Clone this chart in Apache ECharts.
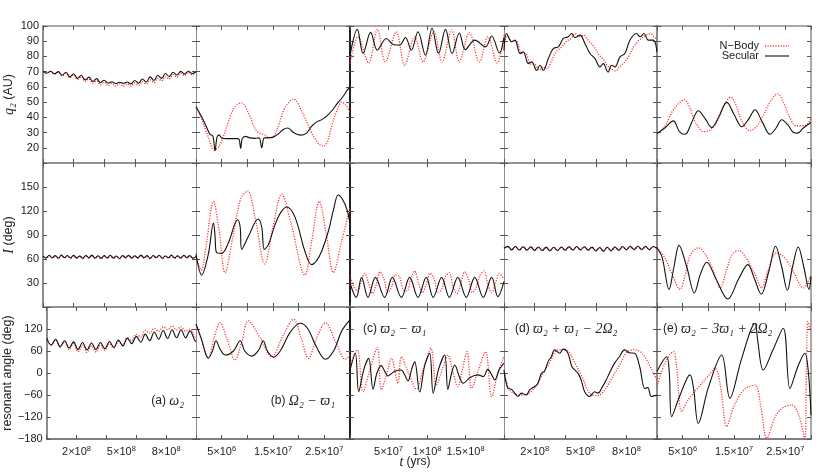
<!DOCTYPE html>
<html>
<head>
<meta charset="utf-8">
<script src="https://cdn.jsdelivr.net/npm/echarts/dist/echarts.min.js"></script>
<style>
html, body { margin: 0; padding: 0; background: #fff; }
#chart { width: 830px; height: 473px; }
</style>
</head>
<body>
<div id="chart"></div>
<script>
// ---- time grids (x units: col a,d = 1e8 yr, col b,e = 1e6 yr, col c = 1e7 yr)
const T025 = [0,0.25,0.5,0.75,1,1.25,1.5,1.75,2,2.25,2.5,2.75,3,3.25,3.5,3.75,4,4.25,4.5,4.75,5,5.25,5.5,5.75,6,6.25,6.5,6.75,7,7.25,7.5,7.75,8,8.25,8.5,8.75,9,9.25,9.5,9.75,10];
const T02 = [0,0.2,0.4,0.6,0.8,1,1.2,1.4,1.6,1.8,2,2.2,2.4,2.6,2.8,3,3.2,3.4,3.6,3.8,4,4.2,4.4,4.6,4.8,5,5.2,5.4,5.6,5.8,6,6.2,6.4,6.6,6.8,7,7.2,7.4,7.6,7.8,8,8.2,8.4,8.6,8.8,9,9.2,9.4,9.6,9.8,10];
const T03 = [0,0.3,0.6,0.9,1.2,1.5,1.8,2.1,2.4,2.7,3,3.3,3.6,3.9,4.2,4.5,4.8,5.1,5.4,5.7,6,6.3,6.6,6.9,7.2,7.5,7.8,8.1,8.4,8.7,9,9.3,9.6,9.9,10];

// ---- row 1: q2 (AU)
const q2A_sec = [70.2,69.0,70.3,68.6,70.0,67.6,69.6,66.6,68.6,65.6,67.6,64.6,66.4,63.6,65.4,62.8,64.4,62.4,63.4,62.2,63.0,62.3,63.2,62.0,64.2,62.4,65.2,63.2,66.6,64.2,67.6,65.6,68.8,66.8,69.6,67.8,70.2,68.4,70.3,68.8,69.8];
const q2A_nb = [70.0,69.0,70.0,68.4,69.6,67.2,69.0,66.0,67.8,64.8,66.6,63.6,65.2,62.4,64.0,61.4,63.0,60.8,62.4,60.4,62.0,60.4,62.0,60.6,62.6,61.0,63.4,61.8,64.6,62.8,65.6,64.0,66.8,65.2,68.0,66.4,69.0,67.4,69.6,68.0,69.4];
const q2B_sec = [[0,47],[1,41],[2,34],[2.7,29],[3.3,27.5],[3.7,18],[4.1,27],[4.5,28.5],[5,26.5],[6,26],[7,26],[8,26],[8.4,25.5],[8.7,19.5],[9.0,26],[9.6,27.5],[10.5,26.5],[11.5,26.2],[12.3,26.5],[12.8,20],[13.3,26.5],[14,26.5],[15,27],[16,29],[17,32],[17.9,33],[19,30],[20.3,28.3],[21.5,29.5],[22.5,34],[23.5,37],[24.5,38.5],[25.5,41],[26.5,44.5],[27.5,49],[28.5,53],[29.5,58],[30,60]];
const q2B_nb = [[0,47],[1.2,38],[2.4,27],[3.5,18.5],[4.5,21],[5.5,29],[6.5,39],[7.6,47],[8.9,49.5],[10.2,43],[11.8,31],[13.4,28.5],[14.7,26.5],[16,34],[17.3,46],[19,52],[20.6,44],[22.5,30],[23.8,23],[24.8,21],[25.6,24],[26.4,34],[27.4,44],[28.4,50],[29.2,48],[30,43]];
const q2C_sec = [[0,80.8],[0.95,97.8],[1.69,81.9],[2.68,95.8],[3.55,84.1],[4.72,91.8],[5.6,87.9],[6.45,87.5],[7.2,92.4],[7.97,84.1],[8.83,96.2],[9.8,80.8],[10.65,98.5],[11.5,81.9],[12.4,97.8],[13.25,81.9],[14.2,95.4],[14.98,84.5],[16.2,90.7],[17.6,86.3],[18.4,93.4],[19.4,82.3],[20,92.4]];
const q2C_nb = [[0,75.3],[1.04,92.9],[2.42,75.7],[3.55,97.8],[4.59,76.4],[6.02,96.2],[7.1,74.2],[8.4,92.9],[9.48,76.4],[10.9,96.2],[11.95,76.4],[13.2,97.4],[14.2,76.4],[15.5,95.6],[16.8,76.4],[17.9,92.9],[19.1,75.7],[20,94]];
const q2D_sec = [[0,84.1],[0.17,95.1],[0.5,89.6],[0.72,90.7],[1.05,81.9],[1.26,83.0],[1.59,75.3],[1.81,76.4],[2.14,70.8],[2.35,74.2],[2.57,70.8],[2.9,78.6],[3.22,85.2],[3.55,86.3],[3.88,91.8],[4.2,92.9],[4.42,95.1],[4.64,92.4],[4.97,94],[5.29,88.5],[5.62,81.9],[5.95,78.6],[6.27,73.1],[6.49,75.3],[6.8,69.7],[7.04,74.2],[7.25,73.1],[7.58,79.7],[7.9,81.9],[8.23,90.7],[8.67,95.1],[8.89,92.9],[9.15,95.1],[9.43,90.7],[9.76,90.7],[10,83]];
const q2D_nb = [[0,84],[0.2,94],[0.55,90],[0.8,90],[1.15,82],[1.4,82],[1.75,75],[2.0,75],[2.3,71],[2.55,73],[2.8,72],[3.1,77],[3.4,83],[3.75,86],[4.1,90],[4.4,92],[4.65,95],[4.9,93],[5.2,94],[5.55,90],[5.9,86],[6.2,81],[6.5,78],[6.75,74],[7.0,72],[7.3,70.5],[7.55,73],[7.85,76],[8.15,80],[8.45,86],[8.75,90],[9.0,92],[9.3,94],[9.55,95],[9.8,93],[10,91]];
const q2E_sec = [[0,29.3],[1.5,33],[3.18,37.7],[4.3,31],[5.13,28.9],[5.8,29.5],[6.8,37],[8.05,44.3],[9.4,39],[10.65,33.3],[12,40],[13.6,49.8],[15,42],[16.5,33.8],[17.8,38.5],[19.1,45],[20.5,37],[22,28.9],[23.2,33],[24.3,38.4],[25.5,35],[26.6,30],[27.4,29.6],[28.5,33],[30,36.6]];
const q2E_nb = [[0,29.3],[1.5,34],[3,44],[4.2,49],[5.3,51.6],[6.3,47],[7.3,38],[8.2,33],[9,30.6],[10.3,31.5],[11.6,36.6],[13,48],[14.4,53.2],[15.5,47],[16.5,37.7],[18.1,31.3],[19.4,34],[20.7,41],[22,50],[23.5,55.4],[24.6,50],[25.6,42],[27.2,34.3],[28.8,34.6],[30,39]];

// ---- row 2: I (deg)
const IA_sec = [63.5,61.2,64.6,61.6,64.2,61.0,64.8,61.8,64.4,61.2,64.6,61.4,63.8,61.0,64.4,61.6,64.8,61.2,64.0,60.8,64.2,61.4,64.6,61.2,63.8,60.6,64.4,61.8,64.6,61.2,64.0,61.4,64.8,61.6,64.2,60.8,64.4,61.8,64.6,61.0,63.8,61.6,64.8,61.4,64.0,61.2,64.6,61.8,64.4,61.0,63.0];
const IA_nb = [63.2,60.8,64.2,61.0,64.0,60.4,64.4,61.2,64.0,60.6,64.2,60.8,63.4,60.2,64.0,61.0,64.4,60.6,63.6,60.2,63.8,60.8,64.2,60.6,63.4,60.0,64.0,61.2,64.2,60.6,63.6,60.8,64.4,61.0,63.8,60.2,64.0,61.2,64.2,60.4,63.4,61.0,64.4,60.8,63.6,60.6,64.2,61.2,64.0,60.6,62.6];
const IB_sec = [[0,66],[1.1,40],[2.4,66],[3.4,105],[3.7,90],[4.0,68],[5,67],[6.3,80],[8.1,109],[8.6,100],[8.9,72],[10.2,88],[12.1,110],[12.8,100],[13.3,72],[14.1,78],[15.4,103],[16.5,118],[17.7,125],[19.3,112],[21.2,70],[22.5,53],[23.5,58],[24.5,70],[25.8,95],[26.8,122],[27.7,140],[28.5,135],[29.4,122],[30,104]];
const IB_nb = [[0,64],[1,46],[2,78],[3.4,132],[4.5,95],[5.65,43],[7.2,88],[8.7,135],[10.07,145],[11.5,112],[13.4,54],[15,100],[16.7,141],[18.5,105],[21.2,40],[22.6,85],[24,132],[25.4,90],[26.75,43],[28.3,80],[30,124]];
const IC_sec = [[0,30],[0.82,12],[1.5,37],[2.34,12],[3.3,37],[4.5,12],[5.5,37],[6.67,12],[7.75,37],[8.83,12],[9.9,37],[10.8,12],[11.9,37],[12.9,12],[14.0,37],[15.1,12],[16.2,37],[17.3,12],[18.4,37],[19.2,13],[20,32]];
const IC_nb = [[0,40],[0.5,25],[1.0,20],[1.4,30],[1.9,42],[2.4,30],[2.9,17],[3.4,28],[3.9,44],[4.4,35],[4.9,18],[5.4,25],[5.9,40],[6.4,38],[6.9,22],[7.4,20],[7.9,35],[8.4,45],[8.9,30],[9.4,18],[9.9,28],[10.4,42],[10.9,36],[11.4,18],[11.9,22],[12.4,38],[12.9,43],[13.4,25],[13.9,17],[14.4,30],[14.9,44],[15.4,34],[15.9,18],[16.4,25],[16.9,40],[17.4,45],[17.9,28],[18.4,18],[18.9,30],[19.4,42],[20,35]];
const ID_sec = [73.5,75.8,71.4,75.6,71.2,75.4,71.0,75.2,70.8,75.0,70.6,74.8,70.4,74.6,70.6,75.0,71.0,75.4,71.2,75.6,71.4,75.4,71.0,74.8,70.2,74.4,69.8,74.6,70.4,75.0,71.0,75.6,71.6,75.8,71.8,76.0,71.8,75.8,71.6,75.6,73.4];
const ID_nb = [73.4,75.6,71.2,75.4,71.0,75.2,70.8,75.0,70.6,74.8,70.4,74.6,70.2,74.6,70.4,74.8,70.8,75.2,71.0,75.4,71.2,75.2,70.8,74.6,70.0,74.2,69.6,74.4,70.2,74.8,70.8,75.4,71.4,75.6,71.6,75.8,71.6,75.6,71.4,75.4,73.2];
const IE_sec = [[0,74],[1,62],[2.34,22],[3.3,50],[4.29,77],[5.8,50],[7.27,17.5],[8.5,42],[9.68,56],[11.5,35],[13.8,10],[15.9,35],[17.7,53],[19,35],[20.3,16],[21.8,45],[23.1,76],[24.3,50],[25.4,21],[26.4,50],[27.5,75],[28.6,50],[29.6,22],[30,38]];
const IE_nb = [[0,74],[1.5,62],[3,40],[4.48,22],[5.5,40],[6.5,65],[8.05,74],[9.5,65],[11,45],[12.3,24],[13.5,45],[14.6,65],[15.9,70.6],[17.3,62],[19,42],[20.4,24],[21.6,45],[23.3,67.7],[24.8,62],[26.5,45],[28.5,24],[30,40]];

// ---- row 3: resonant angle (deg)
const RA_sec = [95,76,92,72,88,68,85,64,83,63,82,64,83,66,86,70,90,74,95,80,100,84,106,88,112,92,116,94,118,96,118,96,115,90,86];
const RA_nb = [94,76,90,70,85,64,80,58,76,56,74,57,76,62,80,68,86,76,96,88,106,98,116,108,122,114,126,118,128,118,126,114,120,100,92];
const RB_sec = [[0,134],[1,95],[2.4,40],[3.2,60],[3.9,88],[4.7,65],[5.7,49],[7.3,60],[8.6,88],[9.5,60],[10.9,46],[12.2,62],[13.1,88],[13.9,60],[15.1,43],[16.5,62],[18.3,110],[20.3,135.5],[21.8,120],[23.5,70],[25.2,37.4],[26.8,60],[28.4,115],[30,145]];
const RB_nb = [[0,133],[1.2,85],[2.4,42],[3.5,95],[4.68,137],[6.1,90],[7.6,35.5],[8.9,85],[10.2,142.6],[12.5,95],[14.75,44.5],[16.9,100],[19,146.4],[20.5,95],[21.9,40],[23.5,95],[25.2,137],[27.2,85],[29.1,37.4],[30,49]];
const RC_sec = [[0,8],[0.69,54],[1.13,-51],[1.8,10],[2.42,40],[2.99,-44],[3.5,0],[4.07,20],[4.5,5],[4.94,-8],[5.8,5],[6.67,8],[7.1,-5],[7.53,-22],[8.0,10],[8.4,31],[9.05,-52],[9.7,20],[10.35,54],[10.8,-55],[11.5,10],[12.3,49],[12.7,-45],[13.2,0],[13.6,22],[14.2,-10],[14.7,-28],[15.6,-12],[16.6,-5],[17.3,-10],[17.9,10],[18.4,-5],[18.8,-19],[19.4,10],[20,27]];
const RC_nb = [[0,20],[0.95,63],[1.69,-51],[2.6,10],[3.55,70],[4.07,-46],[4.8,0],[5.37,40],[6.23,-28],[6.67,44],[7.6,0],[8.61,-44],[9.5,10],[10.5,67],[11.2,-33],[12.0,10],[12.7,49],[13.4,0],[14.0,-37],[14.6,10],[15.2,58],[15.8,-42],[16.7,10],[17.6,58],[18.4,-65],[19.2,0],[20,45]];
const RD_sec = [[0,8],[0.26,-42],[0.48,-44],[0.7,-55],[0.92,-64],[1.13,-55],[1.46,-60],[1.68,-46],[2.0,-37],[2.2,-30],[2.44,-1],[2.65,5],[2.88,31],[3.1,45],[3.31,63],[3.64,54],[3.86,65],[4.18,54],[4.44,17],[4.84,-1],[5.05,-20],[5.27,-51],[5.6,-64],[5.93,-51],[6.14,-55],[6.4,-40],[6.68,-19],[6.95,5],[7.23,27],[7.55,45],[7.88,63],[8.2,55],[8.54,54],[8.87,17],[9.2,-42],[9.4,-40],[9.63,-64],[10,-60]];
const RD_nb = [[0,8],[0.3,-40],[0.9,-60],[1.5,-58],[2.0,-40],[2.5,-5],[3.0,30],[3.4,60],[3.8,64],[4.2,60],[4.6,30],[5.1,-10],[5.6,-55],[6.1,-62],[6.6,-45],[7.1,-10],[7.6,25],[8.0,55],[8.5,64],[9.0,55],[9.4,30],[9.7,5],[10,-20]];
const RE_sec = [[0,4],[1.88,44.5],[2.4,0],[2.86,-119],[4.5,-60],[6.43,-5],[7.1,-40],[8.05,-137],[10,-40],[12.6,49],[14.2,-69],[16.5,40],[19.1,135],[19.6,90],[20.7,8],[22.5,60],[24.6,122],[25.9,-42],[27.5,20],[28.8,54],[29.5,0],[30,-115]];
const RE_nb = [[0,-37],[1.5,25],[3.18,58],[3.8,20],[4.8,-105],[6,-75],[8,-40],[10,-8],[11.3,13],[12.3,-30],[13.6,-146],[15,-90],[17,-45],[19.1,-33],[20.2,-90],[21.4,-178],[23,-120],[24.5,-95],[26.2,-87],[27.5,-110],[28.8,-180],[29.1,0],[29.4,140],[29.9,117]];

// ---- tick labels and texts
const xLabA = { 2: ['2×10', '8'], 5: ['5×10', '8'], 8: ['8×10', '8'] };
const xLabB = { 5: ['5×10', '6'], 15: ['1.5×10', '7'], 25: ['2.5×10', '7'] };
const xLabC = { 5: ['5×10', '7'], 10: ['1×10', '8'], 15: ['1.5×10', '8'] };
const yHidden = [[10], [0, 180], [180]];
const panelText = [
  { t: '(a) ', g: 'ω₂' }, { t: '(b) ', g: 'Ω₂ − ϖ₁' }, { t: '(c) ', g: 'ϖ₂ − ϖ₁' },
  { t: '(d) ', g: 'ϖ₂ + ϖ₁ − 2Ω₂' }, { t: '(e) ', g: 'ϖ₂ − 3ϖ₁ + 2Ω₂' }
];
const legendNames = ['N−Body', 'Secular'];

// ---- layout
const colLeft = [43, 196, 350, 504, 657];
const colWidth = [153, 154, 154, 153, 154];
const rowTop = [26, 163, 307];
const rowHeight = [137, 144, 132];
const xMax = [10, 30, 20, 10, 30];
const xTickStep = [2, 5, 5, 2, 5];
const xLabStep = [1, 5, 5, 1, 5];
const xLabs = [xLabA, xLabB, xLabC, xLabA, xLabB];
const yMin = [10, 0, -180], yMax = [100, 180, 180], yStep = [10, 30, 60];
const edge = [
  { color: '#8c8c8c', width: 2 }, { color: '#8c8c8c', width: 1 }, { color: '#111', width: 1.5 },
  { color: '#8c8c8c', width: 1 }, { color: '#8c8c8c', width: 2 }, { color: '#8c8c8c', width: 1.5 }
];
const RED = '#ff2a2a', BLACK = '#111';
const DOTS = [1.1, 1.5];

const SANS = "'Liberation Sans', Arial, Helvetica, sans-serif";
const SERIF = "'Liberation Serif', 'DejaVu Serif', serif";

function zip (t, v) { return t.map((x, i) => [x, v[i]]) }

const panels = [
  [[zip(T025, q2A_nb), zip(T025, q2A_sec)], [q2B_nb, q2B_sec], [q2C_nb, q2C_sec], [q2D_nb, q2D_sec], [q2E_nb, q2E_sec]],
  [[zip(T02, IA_nb), zip(T02, IA_sec)], [IB_nb, IB_sec], [IC_nb, IC_sec], [zip(T025, ID_nb), zip(T025, ID_sec)], [IE_nb, IE_sec]],
  [[zip(T03, RA_nb), zip(T03, RA_sec)], [RB_nb, RB_sec], [RC_nb, RC_sec], [RD_nb, RD_sec], [RE_nb, RE_sec]]
];
const yNames = ['{i|q₂} (AU)', '{i|I} (deg)', 'resonant angle (deg)'];

const grids = [], xAxes = [], yAxes = [], series = [];
const tickStyle = { show: true, inside: true, length: 4, lineStyle: { color: '#555', width: 1 } };

for (let r = 0; r < 3; r++) {
  for (let c = 0; c < 5; c++) {
    const g = grids.length;
    grids.push({ left: colLeft[c], top: rowTop[r], width: colWidth[c], height: rowHeight[r] });
    const hLine = { color: r === 2 ? '#555' : '#8c8c8c', width: 1.5 };
    const xi = xAxes.length;
    xAxes.push({
      type: 'value', gridIndex: g, position: 'bottom', min: 0, max: xMax[c], interval: xTickStep[c],
      axisLine: { show: true, onZero: false, lineStyle: hLine }, axisTick: tickStyle,
      axisLabel: { show: false }, splitLine: { show: false }
    });
    xAxes.push({
      type: 'value', gridIndex: g, position: 'top', min: 0, max: xMax[c], interval: xTickStep[c],
      axisLine: { show: true, onZero: false, lineStyle: { color: '#8c8c8c', width: 1.5 } }, axisTick: tickStyle,
      axisLabel: { show: false }, splitLine: { show: false }
    });
    if (r === 2) {
      const labs = xLabs[c];
      xAxes.push({
        type: 'value', gridIndex: g, position: 'bottom', min: 0, max: xMax[c], interval: xLabStep[c],
        axisLine: { show: false, onZero: false }, axisTick: { show: false }, splitLine: { show: false },
        axisLabel: {
          margin: 6, color: '#222', fontFamily: SANS, fontSize: 11,
          formatter: v => labs[v] ? '{b|' + labs[v][0] + '}{s|' + labs[v][1] + '}' : '',
          rich: {
            b: { fontFamily: SANS, fontSize: 11, color: '#222', lineHeight: 14 },
            s: { fontFamily: SANS, fontSize: 7.5, color: '#222', verticalAlign: 'top', lineHeight: 14 }
          }
        }
      });
    }
    const yi = yAxes.length;
    const hid = yHidden[r];
    yAxes.push({
      type: 'value', gridIndex: g, position: 'left', min: yMin[r], max: yMax[r], interval: yStep[r],
      axisLine: { show: true, onZero: false, lineStyle: edge[c] }, axisTick: tickStyle, splitLine: { show: false },
      axisLabel: {
        show: c === 0, margin: 4, color: '#222', fontFamily: SANS, fontSize: 11,
        formatter: v => hid.indexOf(v) >= 0 ? '' : String(v).replace('-', '\u2212')
      },
      name: c === 0 ? yNames[r] : '', nameLocation: 'middle', nameGap: 27,
      nameTextStyle: {
        fontFamily: SANS, fontSize: 12.5, color: '#222',
        rich: { i: { fontFamily: SERIF, fontStyle: 'italic', fontSize: 14, color: '#222' } }
      }
    });
    yAxes.push({
      type: 'value', gridIndex: g, position: 'right', min: yMin[r], max: yMax[r], interval: yStep[r],
      axisLine: { show: true, onZero: false, lineStyle: edge[c + 1] }, axisTick: tickStyle,
      axisLabel: { show: false }, splitLine: { show: false }
    });
    const [nb, sec] = panels[r][c];
    series.push({
      type: 'line', name: legendNames[0], xAxisIndex: xi, yAxisIndex: yi, data: nb,
      symbol: 'none', smooth: 0.35, z: 2,
      lineStyle: { color: RED, width: 1.3, type: DOTS }, itemStyle: { color: RED }
    });
    series.push({
      type: 'line', name: legendNames[1], xAxisIndex: xi, yAxisIndex: yi, data: sec,
      symbol: 'none', smooth: 0.35, z: 3,
      lineStyle: { color: BLACK, width: 1.1 }, itemStyle: { color: BLACK }
    });
  }
}

const labelPos = [
  { x: 184, y: 401, align: 'right' }, { x: 335, y: 401, align: 'right' },
  { x: 363, y: 329, align: 'left' }, { x: 515, y: 329, align: 'left' }, { x: 663, y: 329, align: 'left' }
];
const graphics = labelPos.map((p, i) => ({
  type: 'text', x: p.x, y: p.y, z: 10,
  style: {
    text: '{t|' + panelText[i].t + '}{g|' + panelText[i].g + '}',
    align: p.align, verticalAlign: 'middle',
    rich: {
      t: { fontFamily: SANS, fontSize: 12, fill: '#222' },
      g: { fontFamily: SERIF, fontStyle: 'italic', fontSize: 14, fill: '#222' }
    }
  }
}));
graphics.push({
  type: 'text', x: 415, y: 462, z: 10,
  style: {
    text: '{i|t}{t| (yrs)}', align: 'center', verticalAlign: 'middle',
    rich: {
      i: { fontFamily: SERIF, fontStyle: 'italic', fontSize: 14, fill: '#222' },
      t: { fontFamily: SANS, fontSize: 12, fill: '#222' }
    }
  }
});
// legend: text on the left, line sample on the right
const legendRows = [{ y: 46, color: RED, dash: DOTS, w: 1.3 }, { y: 56, color: BLACK, dash: null, w: 1.1 }];
legendRows.forEach((l, i) => {
  graphics.push({
    type: 'text', x: 759, y: l.y, z: 10,
    style: { text: legendNames[i], align: 'right', verticalAlign: 'middle', fontFamily: SANS, fontSize: 11, fill: '#222' }
  });
  graphics.push({
    type: 'line', z: 10, shape: { x1: 765, y1: l.y, x2: 789, y2: l.y },
    style: { stroke: l.color, lineWidth: l.w, lineDash: l.dash }
  });
});

const chart = echarts.init(document.getElementById('chart'));
chart.setOption({
  animation: false,
  backgroundColor: '#fff',
  grid: grids,
  xAxis: xAxes,
  yAxis: yAxes,
  series: series,
  graphic: graphics
});
</script>
</body>
</html>
